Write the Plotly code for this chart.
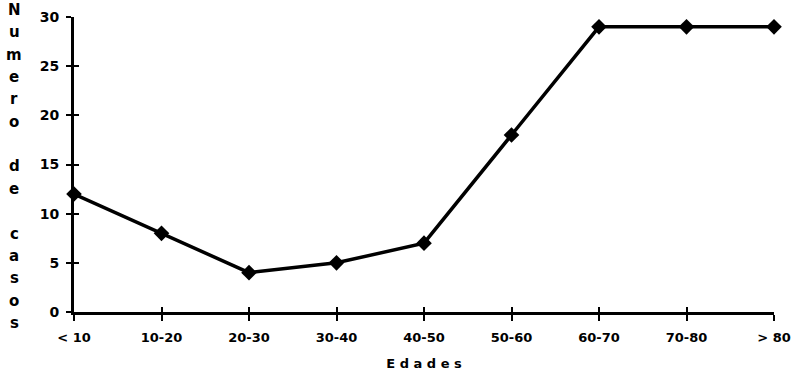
import plotly.graph_objects as go

categories = ["< 10", "10-20", "20-30", "30-40", "40-50", "50-60", "60-70", "70-80", "> 80"]
casos = [12, 8, 4, 5, 7, 18, 29, 29, 29]
y_ticks = [0, 5, 10, 15, 20, 25, 30]
y_title = "Numero de casos"
x_title = "Edades"

W, H = 798, 377
L, R, T, B = 74, 24, 17, 65
FONT = "DejaVu Sans"

fig = go.Figure()
fig.add_trace(go.Scatter(
    x=categories, y=casos, mode="lines+markers",
    line=dict(color="black", width=3.5),
    marker=dict(symbol="diamond", size=12, color="black"),
    cliponaxis=False, showlegend=False,
))
# invisible trace on overlay axes so they render
fig.add_trace(go.Scatter(x=categories, y=casos, xaxis="x2", yaxis="y2",
                         mode="lines", line=dict(width=0), opacity=0,
                         showlegend=False, hoverinfo="skip"))

axis_common = dict(showgrid=False, zeroline=False, linecolor="black", linewidth=3,
                   tickcolor="black", tickwidth=2, automargin=False)
fig.update_layout(
    width=W, height=H,
    margin=dict(l=L, r=R, t=T, b=B, pad=0),
    plot_bgcolor="white", paper_bgcolor="white",
    font=dict(family=FONT, color="black"),
    xaxis=dict(**axis_common, type="category", range=[0, len(categories) - 1],
               ticks="outside", ticklen=6, ticklabelstandoff=5,
               tickfont=dict(family=FONT, size=13, weight="bold"),
               title=dict(text=" ".join(x_title), font=dict(family=FONT, size=13, weight="bold"), standoff=16)),
    yaxis=dict(**axis_common, range=[0, 30], tickvals=y_ticks,
               ticks="outside", ticklen=5, ticklabelstandoff=4,
               tickfont=dict(family=FONT, size=14, weight="bold")),
    xaxis2=dict(**axis_common, type="category", range=[0, len(categories) - 1],
                overlaying="x", ticks="inside", ticklen=5, showticklabels=False,
                showline=False, side="bottom"),
    yaxis2=dict(**axis_common, range=[0, 30], tickvals=y_ticks, overlaying="y",
                ticks="inside", ticklen=5, showticklabels=False, showline=False),
)

# vertical stacked y-axis title, letter by letter
letters = []
for word_i, word in enumerate(y_title.split(" ")):
    if word_i > 0:
        letters.append("")
    letters.extend(list(word))
top_px, step_px = 10, 22.35
plot_h = H - T - B
plot_w = W - L - R
for i, ch in enumerate(letters):
    if not ch:
        continue
    py = top_px + i * step_px
    fig.add_annotation(
        text=ch, xref="paper", yref="paper",
        x=(14 - L) / plot_w, y=(H - B - py) / plot_h,
        xanchor="center", yanchor="middle", showarrow=False,
        font=dict(family=FONT, size=15, weight="bold", color="black"),
    )

fig.write_html("out.html", config={"displayModeBar": False},
               post_script="document.body.style.margin='0';")
